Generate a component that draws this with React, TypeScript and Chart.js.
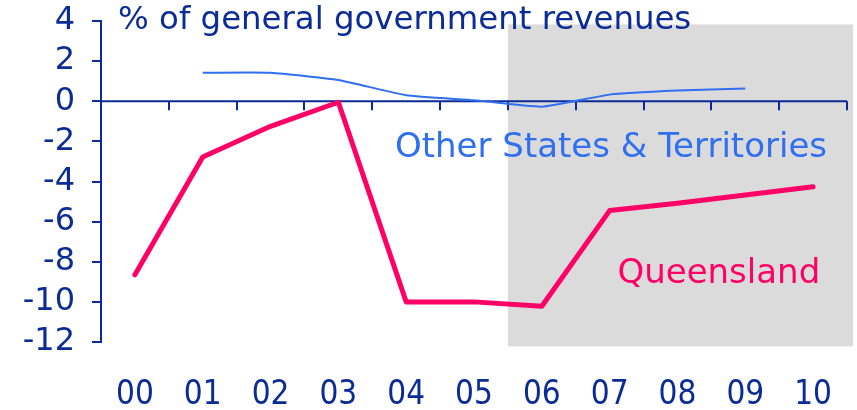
import React, { useEffect, useRef } from "react";
import { Chart, registerables } from "chart.js";

Chart.register(...registerables);

const yearLabels = ["00", "01", "02", "03", "04", "05", "06", "07", "08", "09", "10"];
const queensland = [-8.65, -2.78, -1.25, -0.05, -10.0, -10.0, -10.22, -5.45, -5.08, -4.67, -4.26];
const otherStates = [null, 1.42, 1.42, 1.06, 0.3, 0.05, -0.27, 0.33, 0.53, 0.63, null];
const yTicks = [-12, -10, -8, -6, -4, -2, 0, 2, 4];

const titleText = "% of general government revenues";
const otherLabel = "Other States & Territories";
const qldLabel = "Queensland";

const AXIS = "#0B2B97";
const PINK = "#FF0066";
const BLUE = "#2F6FF0";
const SHADE = "#DBDBDB";
const FONT = "'DejaVu Sans', Verdana, sans-serif";
const NARROW = "'Liberation Sans Narrow', 'DejaVu Sans Condensed', sans-serif";

// shaded forecast region in data units (category index, value)
const shade = { x0: 5.5, x1: 10.59, y0: 3.83, y1: -12.22 };

const decorPlugin = {
  id: "decor",
  beforeDatasetsDraw(chart: any) {
    const { ctx } = chart;
    const xs = chart.scales.x;
    const ys = chart.scales.y;
    ctx.save();
    ctx.fillStyle = SHADE;
    const l = xs.getPixelForValue(shade.x0);
    const r = xs.getPixelForValue(shade.x1);
    const t = ys.getPixelForValue(shade.y0);
    const b = ys.getPixelForValue(shade.y1);
    ctx.fillRect(l, t, r - l, b - t);
    // zero axis line with boundary ticks
    const y0 = ys.getPixelForValue(0);
    ctx.strokeStyle = AXIS;
    ctx.lineWidth = 2;
    ctx.beginPath();
    ctx.moveTo(chart.chartArea.left, y0);
    ctx.lineTo(chart.chartArea.right, y0);
    for (let i = 0; i <= yearLabels.length; i++) {
      const px = Math.round(xs.getPixelForValue(i - 0.5));
      ctx.moveTo(px, y0);
      ctx.lineTo(px, y0 + 9);
    }
    ctx.stroke();
    ctx.restore();
  },
  afterDatasetsDraw(chart: any) {
    const { ctx } = chart;
    const xs = chart.scales.x;
    const ys = chart.scales.y;
    ctx.save();
    ctx.textBaseline = "alphabetic";
    ctx.fillStyle = AXIS;
    ctx.textAlign = "left";
    ctx.font = `32.4px ${FONT}`;
    ctx.fillText(titleText, chart.chartArea.left + 17, 29);
    ctx.fillStyle = BLUE;
    ctx.textAlign = "center";
    ctx.font = `34px ${FONT}`;
    ctx.fillText(otherLabel, xs.getPixelForValue(7.02), ys.getPixelForValue(-2.78));
    ctx.fillStyle = PINK;
    ctx.fillText(qldLabel, xs.getPixelForValue(8.61), ys.getPixelForValue(-9.05));
    ctx.restore();
  },
};

export default function App() {
  const ref = useRef<HTMLCanvasElement | null>(null);
  useEffect(() => {
    document.body.style.margin = "0";
    const canvas = ref.current!;
    const chart = new Chart(canvas, {
      type: "line",
      data: {
        labels: yearLabels,
        datasets: [
          {
            label: "Other States & Territories",
            data: otherStates,
            borderColor: BLUE,
            borderWidth: 2,
            pointRadius: 0,
            tension: 0.15,
            spanGaps: false,
          },
          {
            label: "Queensland",
            data: queensland,
            borderColor: PINK,
            borderWidth: 5,
            pointRadius: 0,
            tension: 0,
            borderCapStyle: "round",
            borderJoinStyle: "round",
          },
        ],
      },
      options: {
        responsive: false,
        animation: false,
        layout: { padding: { top: 21, right: 10, left: 0, bottom: 0 } },
        plugins: { legend: { display: false }, tooltip: { enabled: false } },
        scales: {
          x: {
            type: "category",
            offset: true,
            grid: { display: false, drawTicks: false },
            border: { display: false },
            ticks: {
              color: AXIS,
              font: { family: NARROW, size: 33 },
              padding: 34,
              maxRotation: 0,
              autoSkip: false,
            },
            afterFit(scale: any) {
              scale.height = 68;
              scale.paddingLeft = 0;
              scale.paddingRight = 0;
            },
          },
          y: {
            min: -12,
            max: 4,
            afterBuildTicks(scale: any) {
              scale.ticks = yTicks.map((v) => ({ value: v }));
            },
            grid: {
              display: true,
              drawOnChartArea: false,
              drawTicks: true,
              tickLength: 9,
              color: AXIS,
              lineWidth: 2,
            },
            border: { display: true, color: AXIS, width: 2 },
            ticks: {
              color: AXIS,
              font: { family: FONT, size: 32 },
              padding: 17,
              autoSkip: false,
            },
            afterFit(scale: any) {
              scale.width = 101;
              scale.paddingTop = 0;
              scale.paddingBottom = 0;
            },
          },
        },
      },
      plugins: [decorPlugin],
    });
    return () => chart.destroy();
  }, []);
  return (
    <canvas
      ref={ref}
      width={857}
      height={410}
      style={{ position: "fixed", left: 0, top: 0, width: 857, height: 410 }}
    />
  );
}
